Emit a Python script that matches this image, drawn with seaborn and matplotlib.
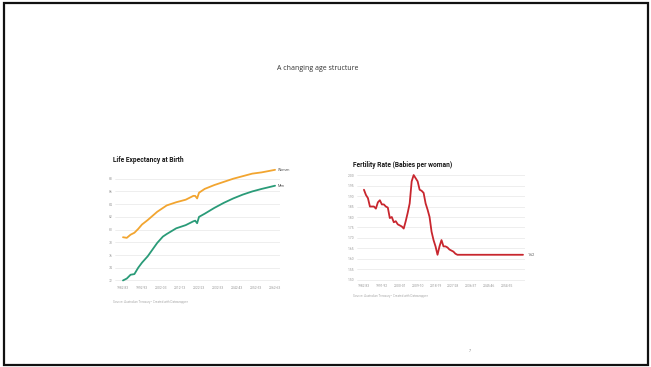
"""Slide: A changing age structure - life expectancy and fertility rate."""
import matplotlib
matplotlib.use('Agg')
import matplotlib.pyplot as plt
import seaborn as sns
import pandas as pd
from matplotlib.patches import Rectangle

# life expectancy at birth (years)
le_years = [1982, 1984, 1986, 1988, 1990, 1992, 1995, 2000, 2003, 2005, 2010, 2015,
            2019, 2020, 2021, 2022, 2025, 2030, 2035, 2040, 2045, 2050, 2055, 2062]
le_women = [78.8, 78.7, 79.2, 79.5, 80.1, 80.8, 81.5, 82.8, 83.4, 83.8, 84.3, 84.7,
            85.3, 85.3, 84.9, 85.8, 86.4, 87.0, 87.5, 88.0, 88.4, 88.8, 89.0, 89.4]
le_men = [72.0, 72.3, 72.9, 73.0, 74.0, 74.8, 75.8, 77.9, 78.9, 79.3, 80.2, 80.7,
          81.3, 81.4, 81.0, 82.0, 82.5, 83.4, 84.2, 84.9, 85.5, 86.0, 86.4, 86.9]
le_ticks = [1982, 1992, 2002, 2012, 2022, 2032, 2042, 2052, 2062]
le_labels = ['1982-83', '1992-93', '2002-03', '2012-13', '2022-23', '2032-33',
             '2042-43', '2052-53', '2062-63']
le_yticks = [72, 74, 76, 78, 80, 82, 84, 86, 88]

# fertility rate (babies per woman)
fr_years = [1982, 1983, 1984, 1985, 1986, 1987, 1988, 1989, 1990, 1991, 1992, 1993,
            1994, 1995, 1996, 1997, 1998, 1999, 2000, 2001, 2002, 2003, 2004, 2005,
            2006, 2007, 2008, 2009, 2010, 2011, 2012, 2013, 2014, 2015, 2016, 2017,
            2018, 2019, 2020, 2021, 2022, 2023, 2024, 2025, 2026, 2027, 2028, 2029,
            2062]
fr_rate = [1.93, 1.905, 1.89, 1.85, 1.85, 1.85, 1.84, 1.87, 1.88, 1.86, 1.86, 1.85,
           1.845, 1.795, 1.80, 1.775, 1.78, 1.765, 1.76, 1.755, 1.745, 1.78, 1.82, 1.865,
           1.97, 2.00, 1.985, 1.97, 1.93, 1.925, 1.915, 1.865, 1.835, 1.80, 1.73, 1.69,
           1.66, 1.62, 1.66, 1.69, 1.66, 1.66, 1.655, 1.645, 1.64, 1.635, 1.625, 1.62,
           1.62]
fr_ticks = [1982, 1991, 2000, 2009, 2018, 2027, 2036, 2045, 2054]
fr_labels = ['1982-83', '1991-92', '2000-01', '2009-10', '2018-19', '2027-28',
             '2036-37', '2045-46', '2054-55']
fr_yticks = [1.50, 1.55, 1.60, 1.65, 1.70, 1.75, 1.80, 1.85, 1.90, 1.95, 2.00]

W, H = 651, 367
sns.set_style('white')
plt.rcParams['font.family'] = ['Roboto', 'DejaVu Sans']

fig = plt.figure(figsize=(W / 100, H / 100), dpi=100)


def px_axes(x0, y0, x1, y1):
    return fig.add_axes([x0 / W, 1 - y1 / H, (x1 - x0) / W, (y1 - y0) / H])


def style(ax, yticks, ylabels, xticks, xlabels):
    ax.set_yticks(yticks)
    ax.set_yticklabels(ylabels)
    ax.set_xticks(xticks)
    ax.set_xticklabels(xlabels)
    ax.tick_params(length=0, labelsize=2.4, colors='#9a9a9a', pad=2)
    ax.grid(axis='y', color='#e8e8e8', lw=0.5)
    ax.grid(axis='x', visible=False)
    for s in ax.spines.values():
        s.set_visible(False)
    ax.set_xlabel('')
    ax.set_ylabel('')


# slide frame and title
fig.patches.append(Rectangle((4 / W, 2 / H), 644 / W, 362 / H, transform=fig.transFigure,
                             fill=False, ec='#111111', lw=1.6))
fig.text(318 / W, 1 - 68 / H, 'A changing age structure', ha='center', va='center',
         fontsize=5, color='#333333', family=['Open Sans', 'DejaVu Sans'])
fig.text(470 / W, 1 - 351 / H, '7', ha='center', va='center', fontsize=2.5, color='#777777')

# life expectancy
le = pd.DataFrame({'year': le_years * 2, 'value': le_women + le_men,
                   'sex': ['Women'] * len(le_years) + ['Men'] * len(le_years)})
ax1 = px_axes(115, 166, 280, 283)
sns.lineplot(data=le, x='year', y='value', hue='sex', palette={'Women': '#f2a530', 'Men': '#2a9b78'},
             lw=1.3, legend=False, ax=ax1)
ax1.set_xlim(1977.8, 2064.6)
ax1.set_ylim(71.6, 90)
style(ax1, le_yticks, [str(v) for v in le_yticks], le_ticks, le_labels)
ax1.text(le_years[-1] + 1.5, le_women[-1], 'Women', fontsize=2.6, color='#555555', va='center')
ax1.text(le_years[-1] + 1.5, le_men[-1], 'Men', fontsize=2.6, color='#555555', va='center')
fig.text(113 / W, 1 - 160 / H, 'Life Expectancy at Birth', fontsize=4.8, weight='bold',
         color='#1a1a1a', va='center')
fig.text(113 / W, 1 - 302 / H, 'Source: Australian Treasury \u2022 Created with Datawrapper',
         fontsize=2.2, color='#aaaaaa', va='center')

# fertility rate
fr = pd.DataFrame({'year': fr_years, 'rate': fr_rate})
ax2 = px_axes(357, 174, 525, 281)
sns.lineplot(data=fr, x='year', y='rate', color='#c8262e', lw=1.3, ax=ax2)
ax2.set_xlim(1978.5, 2063)
ax2.set_ylim(1.495, 2.005)
style(ax2, fr_yticks, [f'{v:.2f}' for v in fr_yticks], fr_ticks, fr_labels)
ax2.text(fr_years[-1] + 2.2, fr_rate[-1], '1.62', fontsize=2.6, color='#555555', va='center')
fig.text(353 / W, 1 - 165 / H, 'Fertility Rate (Babies per woman)', fontsize=4.8,
         weight='bold', color='#1a1a1a', va='center')
fig.text(353 / W, 1 - 296 / H, 'Source: Australian Treasury \u2022 Created with Datawrapper',
         fontsize=2.2, color='#aaaaaa', va='center')

fig.savefig('out.png', dpi=100)
